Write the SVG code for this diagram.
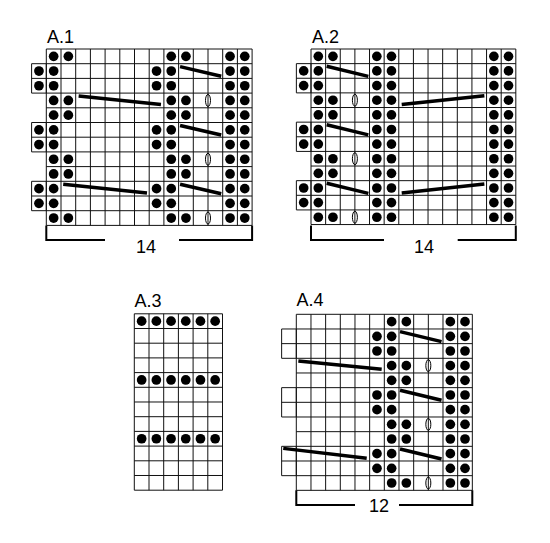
<svg xmlns="http://www.w3.org/2000/svg" xmlns:xlink="http://www.w3.org/1999/xlink" width="550" height="543" viewBox="0 0 550 543">
<style>
.grid{fill:#fff;stroke:#111;stroke-width:1;vector-effect:non-scaling-stroke}
.cab{stroke:#000;stroke-width:3.5;fill:none;vector-effect:non-scaling-stroke}
.yo{fill:none;stroke:#000;stroke-width:1;vector-effect:non-scaling-stroke}
.br{fill:none;stroke:#000;stroke-width:2}
.lbl{font-family:"Liberation Sans",Arial,sans-serif;font-size:18px;fill:#000}
</style>
<defs>
<circle id="d" cx="0.5" cy="0.5" r="0.33" fill="#000"/>
<ellipse id="o" cx="0" cy="0.5" rx="0.17" ry="0.41" class="yo"/>
</defs>
<rect width="550" height="543" fill="#fff"/>

<!-- A.1 -->
<g id="A1">
<text class="lbl" x="47" y="42.5">A.1</text>
<g transform="translate(46.3,49) scale(14.7)">
<path class="grid" d="M0 0H14V12H0Z M-1 1H0V3H-1Z M-1 5H0V7H-1Z M-1 9H0V11H-1Z M-1 2H0 M-1 6H0 M-1 10H0 M1 0V12M2 0V12M3 0V12M4 0V12M5 0V12M6 0V12M7 0V12M8 0V12M9 0V12M10 0V12M11 0V12M12 0V12M13 0V12 M0 1H14M0 2H14M0 3H14M0 4H14M0 5H14M0 6H14M0 7H14M0 8H14M0 9H14M0 10H14M0 11H14"/>
<g>
<use href="#d" x="0" y="0"/><use href="#d" x="1" y="0"/><use href="#d" x="8" y="0"/><use href="#d" x="9" y="0"/><use href="#d" x="12" y="0"/><use href="#d" x="13" y="0"/>
<use href="#d" x="-1" y="1"/><use href="#d" x="0" y="1"/><use href="#d" x="7" y="1"/><use href="#d" x="8" y="1"/><use href="#d" x="12" y="1"/><use href="#d" x="13" y="1"/>
<use href="#d" x="-1" y="2"/><use href="#d" x="0" y="2"/><use href="#d" x="7" y="2"/><use href="#d" x="8" y="2"/><use href="#d" x="12" y="2"/><use href="#d" x="13" y="2"/>
<use href="#d" x="0" y="3"/><use href="#d" x="1" y="3"/><use href="#d" x="8" y="3"/><use href="#d" x="9" y="3"/><use href="#d" x="12" y="3"/><use href="#d" x="13" y="3"/>
<use href="#d" x="0" y="4"/><use href="#d" x="1" y="4"/><use href="#d" x="8" y="4"/><use href="#d" x="9" y="4"/><use href="#d" x="12" y="4"/><use href="#d" x="13" y="4"/>
<use href="#d" x="-1" y="5"/><use href="#d" x="0" y="5"/><use href="#d" x="7" y="5"/><use href="#d" x="8" y="5"/><use href="#d" x="12" y="5"/><use href="#d" x="13" y="5"/>
<use href="#d" x="-1" y="6"/><use href="#d" x="0" y="6"/><use href="#d" x="7" y="6"/><use href="#d" x="8" y="6"/><use href="#d" x="12" y="6"/><use href="#d" x="13" y="6"/>
<use href="#d" x="0" y="7"/><use href="#d" x="1" y="7"/><use href="#d" x="8" y="7"/><use href="#d" x="9" y="7"/><use href="#d" x="12" y="7"/><use href="#d" x="13" y="7"/>
<use href="#d" x="0" y="8"/><use href="#d" x="1" y="8"/><use href="#d" x="8" y="8"/><use href="#d" x="9" y="8"/><use href="#d" x="12" y="8"/><use href="#d" x="13" y="8"/>
<use href="#d" x="-1" y="9"/><use href="#d" x="0" y="9"/><use href="#d" x="7" y="9"/><use href="#d" x="8" y="9"/><use href="#d" x="12" y="9"/><use href="#d" x="13" y="9"/>
<use href="#d" x="-1" y="10"/><use href="#d" x="0" y="10"/><use href="#d" x="7" y="10"/><use href="#d" x="8" y="10"/><use href="#d" x="12" y="10"/><use href="#d" x="13" y="10"/>
<use href="#d" x="0" y="11"/><use href="#d" x="1" y="11"/><use href="#d" x="8" y="11"/><use href="#d" x="9" y="11"/><use href="#d" x="12" y="11"/><use href="#d" x="13" y="11"/>
</g>
<use href="#o" x="11" y="3"/><use href="#o" x="11" y="7"/><use href="#o" x="11" y="11"/>
<path class="cab" d="M9.1 1.2L11.9 1.85 M9.1 5.2L11.9 5.85 M9.1 9.2L11.9 9.85 M2.2 3.2L7.8 3.78 M1.15 9.2L6.85 9.8"/>
</g>
<path class="br" d="M46.3 225.4V240H105 M179 240H252.1V225.4"/>
<text class="lbl" x="146" y="253" text-anchor="middle">14</text>
</g>

<!-- A.2 -->
<g id="A2">
<text class="lbl" x="312" y="42.5">A.2</text>
<g transform="translate(311,49) scale(14.63)">
<path class="grid" d="M0 0H14V12H0Z M-1 1H0V3H-1Z M-1 5H0V7H-1Z M-1 9H0V11H-1Z M-1 2H0 M-1 6H0 M-1 10H0 M1 0V12M2 0V12M3 0V12M4 0V12M5 0V12M6 0V12M7 0V12M8 0V12M9 0V12M10 0V12M11 0V12M12 0V12M13 0V12 M0 1H14M0 2H14M0 3H14M0 4H14M0 5H14M0 6H14M0 7H14M0 8H14M0 9H14M0 10H14M0 11H14"/>
<g>
<use href="#d" x="0" y="0"/><use href="#d" x="1" y="0"/><use href="#d" x="4" y="0"/><use href="#d" x="5" y="0"/><use href="#d" x="12" y="0"/><use href="#d" x="13" y="0"/>
<use href="#d" x="-1" y="1"/><use href="#d" x="0" y="1"/><use href="#d" x="4" y="1"/><use href="#d" x="5" y="1"/><use href="#d" x="12" y="1"/><use href="#d" x="13" y="1"/>
<use href="#d" x="-1" y="2"/><use href="#d" x="0" y="2"/><use href="#d" x="4" y="2"/><use href="#d" x="5" y="2"/><use href="#d" x="12" y="2"/><use href="#d" x="13" y="2"/>
<use href="#d" x="0" y="3"/><use href="#d" x="1" y="3"/><use href="#d" x="4" y="3"/><use href="#d" x="5" y="3"/><use href="#d" x="12" y="3"/><use href="#d" x="13" y="3"/>
<use href="#d" x="0" y="4"/><use href="#d" x="1" y="4"/><use href="#d" x="4" y="4"/><use href="#d" x="5" y="4"/><use href="#d" x="12" y="4"/><use href="#d" x="13" y="4"/>
<use href="#d" x="-1" y="5"/><use href="#d" x="0" y="5"/><use href="#d" x="4" y="5"/><use href="#d" x="5" y="5"/><use href="#d" x="12" y="5"/><use href="#d" x="13" y="5"/>
<use href="#d" x="-1" y="6"/><use href="#d" x="0" y="6"/><use href="#d" x="4" y="6"/><use href="#d" x="5" y="6"/><use href="#d" x="12" y="6"/><use href="#d" x="13" y="6"/>
<use href="#d" x="0" y="7"/><use href="#d" x="1" y="7"/><use href="#d" x="4" y="7"/><use href="#d" x="5" y="7"/><use href="#d" x="12" y="7"/><use href="#d" x="13" y="7"/>
<use href="#d" x="0" y="8"/><use href="#d" x="1" y="8"/><use href="#d" x="4" y="8"/><use href="#d" x="5" y="8"/><use href="#d" x="12" y="8"/><use href="#d" x="13" y="8"/>
<use href="#d" x="-1" y="9"/><use href="#d" x="0" y="9"/><use href="#d" x="4" y="9"/><use href="#d" x="5" y="9"/><use href="#d" x="12" y="9"/><use href="#d" x="13" y="9"/>
<use href="#d" x="-1" y="10"/><use href="#d" x="0" y="10"/><use href="#d" x="4" y="10"/><use href="#d" x="5" y="10"/><use href="#d" x="12" y="10"/><use href="#d" x="13" y="10"/>
<use href="#d" x="0" y="11"/><use href="#d" x="1" y="11"/><use href="#d" x="4" y="11"/><use href="#d" x="5" y="11"/><use href="#d" x="12" y="11"/><use href="#d" x="13" y="11"/>
</g>
<use href="#o" x="3" y="3"/><use href="#o" x="3" y="7"/><use href="#o" x="3" y="11"/>
<path class="cab" d="M1.07 1.18L3.92 1.87 M1.07 5.18L3.92 5.87 M1.07 9.18L3.92 9.87 M6.2 3.8L11.85 3.2 M6.2 9.84L11.85 9.22"/>
</g>
<path class="br" d="M311 225.6V240H384 M457.7 240H515.8V225.6"/>
<text class="lbl" x="424" y="253" text-anchor="middle">14</text>
</g>

<!-- A.3 -->
<g id="A3">
<text class="lbl" x="134.5" y="306.5">A.3</text>
<g transform="translate(134.3,313.8) scale(14.7)">
<path class="grid" d="M0 0H6V12H0Z M1 0V12M2 0V12M3 0V12M4 0V12M5 0V12 M0 1H6M0 2H6M0 3H6M0 4H6M0 5H6M0 6H6M0 7H6M0 8H6M0 9H6M0 10H6M0 11H6"/>
<use href="#d" x="0" y="0"/><use href="#d" x="1" y="0"/><use href="#d" x="2" y="0"/><use href="#d" x="3" y="0"/><use href="#d" x="4" y="0"/><use href="#d" x="5" y="0"/>
<use href="#d" x="0" y="4"/><use href="#d" x="1" y="4"/><use href="#d" x="2" y="4"/><use href="#d" x="3" y="4"/><use href="#d" x="4" y="4"/><use href="#d" x="5" y="4"/>
<use href="#d" x="0" y="8"/><use href="#d" x="1" y="8"/><use href="#d" x="2" y="8"/><use href="#d" x="3" y="8"/><use href="#d" x="4" y="8"/><use href="#d" x="5" y="8"/>
</g>
</g>

<!-- A.4 -->
<g id="A4">
<text class="lbl" x="296.5" y="305.7">A.4</text>
<g transform="translate(296.3,314.3) scale(14.67)">
<path class="grid" d="M0 0H12V12H0Z M-1 1H0V3H-1Z M-1 5H0V7H-1Z M-1 9H0V11H-1Z M-1 2H0 M-1 6H0 M-1 10H0 M1 0V12M2 0V12M3 0V12M4 0V12M5 0V12M6 0V12M7 0V12M8 0V12M9 0V12M10 0V12M11 0V12 M0 1H12M0 2H12M0 3H12M0 4H12M0 5H12M0 6H12M0 7H12M0 8H12M0 9H12M0 10H12M0 11H12"/>
<g>
<use href="#d" x="6" y="0"/><use href="#d" x="7" y="0"/><use href="#d" x="10" y="0"/><use href="#d" x="11" y="0"/>
<use href="#d" x="5" y="1"/><use href="#d" x="6" y="1"/><use href="#d" x="10" y="1"/><use href="#d" x="11" y="1"/>
<use href="#d" x="5" y="2"/><use href="#d" x="6" y="2"/><use href="#d" x="10" y="2"/><use href="#d" x="11" y="2"/>
<use href="#d" x="6" y="3"/><use href="#d" x="7" y="3"/><use href="#d" x="10" y="3"/><use href="#d" x="11" y="3"/>
<use href="#d" x="6" y="4"/><use href="#d" x="7" y="4"/><use href="#d" x="10" y="4"/><use href="#d" x="11" y="4"/>
<use href="#d" x="5" y="5"/><use href="#d" x="6" y="5"/><use href="#d" x="10" y="5"/><use href="#d" x="11" y="5"/>
<use href="#d" x="5" y="6"/><use href="#d" x="6" y="6"/><use href="#d" x="10" y="6"/><use href="#d" x="11" y="6"/>
<use href="#d" x="6" y="7"/><use href="#d" x="7" y="7"/><use href="#d" x="10" y="7"/><use href="#d" x="11" y="7"/>
<use href="#d" x="6" y="8"/><use href="#d" x="7" y="8"/><use href="#d" x="10" y="8"/><use href="#d" x="11" y="8"/>
<use href="#d" x="5" y="9"/><use href="#d" x="6" y="9"/><use href="#d" x="10" y="9"/><use href="#d" x="11" y="9"/>
<use href="#d" x="5" y="10"/><use href="#d" x="6" y="10"/><use href="#d" x="10" y="10"/><use href="#d" x="11" y="10"/>
<use href="#d" x="6" y="11"/><use href="#d" x="7" y="11"/><use href="#d" x="10" y="11"/><use href="#d" x="11" y="11"/>
</g>
<use href="#o" x="9" y="3"/><use href="#o" x="9" y="7"/><use href="#o" x="9" y="11"/>
<path class="cab" d="M7.07 1.18L9.9 1.86 M7.07 5.18L9.9 5.86 M7.07 9.18L9.9 9.86 M0.14 3.18L5.82 3.75 M-0.89 9.14L4.8 9.82"/>
</g>
<path class="br" d="M296.3 490.3V505H355 M399 505H472.3V490.3"/>
<text class="lbl" x="379" y="511.5" text-anchor="middle">12</text>
</g>
</svg>
